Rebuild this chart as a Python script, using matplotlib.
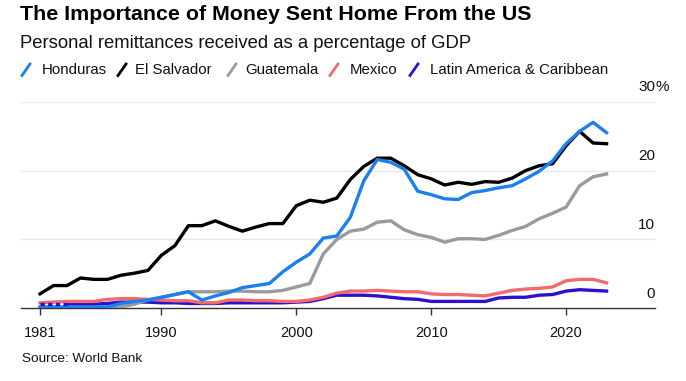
import matplotlib
matplotlib.use("Agg")
import matplotlib.pyplot as plt
from matplotlib.lines import Line2D
import matplotlib.transforms as mtransforms

plt.rcParams['font.family'] = ['Liberation Sans', 'DejaVu Sans']

years = list(range(1981, 2024))

honduras = [0.2, 0.2, 0.2, 0.2, 0.2, 0.2, 0.7, 1.0, 1.2, 1.6,
            2.0, 2.4, 1.2, 1.8, 2.3, 3.0, 3.3, 3.6, 5.3, 6.7,
            7.9, 10.2, 10.5, 13.2, 18.5, 21.6, 21.2, 20.2, 17.0, 16.5,
            15.9, 15.8, 16.8, 17.1, 17.5, 17.8, 18.8, 19.9, 21.4, 23.9,
            25.7, 27.0, 25.5]
el_salvador = [2.1, 3.3, 3.3, 4.4, 4.2, 4.2, 4.8, 5.1, 5.5, 7.7,
               9.1, 12.0, 12.0, 12.7, 11.9, 11.2, 11.8, 12.3, 12.3, 14.9,
               15.7, 15.4, 16.0, 18.7, 20.6, 21.8, 21.8, 20.7, 19.4, 18.8,
               17.9, 18.3, 18.0, 18.4, 18.3, 18.9, 20.0, 20.7, 21.0, 23.6,
               25.7, 24.0, 23.9]
guatemala = [0.1, 0.1, 0.1, 0.1, 0.1, 0.1, 0.2, 0.6, 1.2, 1.6,
             2.0, 2.4, 2.4, 2.4, 2.5, 2.5, 2.4, 2.4, 2.6, 3.1,
             3.6, 7.9, 10.0, 11.2, 11.5, 12.5, 12.7, 11.4, 10.7, 10.3,
             9.6, 10.1, 10.1, 10.0, 10.6, 11.3, 11.9, 13.0, 13.8, 14.7,
             17.8, 19.1, 19.5]
mexico = [0.8, 0.9, 1.0, 1.0, 1.0, 1.3, 1.4, 1.4, 1.3, 1.2,
          1.1, 1.1, 0.8, 0.8, 1.2, 1.2, 1.1, 1.1, 1.0, 1.0,
          1.2, 1.6, 2.2, 2.5, 2.5, 2.6, 2.5, 2.4, 2.4, 2.1,
          2.0, 2.0, 1.9, 1.8, 2.2, 2.6, 2.8, 2.9, 3.1, 4.0,
          4.2, 4.2, 3.7]
latam = [0.6, 0.6, 0.6, 0.6, 0.6, 0.7, 0.9, 0.9, 0.9, 0.8,
         0.8, 0.7, 0.7, 0.7, 0.8, 0.8, 0.8, 0.8, 0.8, 0.9,
         1.0, 1.4, 1.9, 1.9, 1.9, 1.8, 1.6, 1.4, 1.3, 1.0,
         1.0, 1.0, 1.0, 1.0, 1.5, 1.6, 1.6, 1.9, 2.0, 2.5,
         2.7, 2.6, 2.5]

series_names = ["Honduras", "El Salvador", "Guatemala", "Mexico", "Latin America & Caribbean"]
colors = ["#1a7ff0", "#000000", "#9a9a9a", "#f26b6b", "#2b10cc"]
xtick_years = [1981, 1990, 2000, 2010, 2020]
ytick_vals = [0, 10, 20, 30]
ytick_labels = ["0", "10", "20", "30"]

W, H = 686, 381
fig = plt.figure(figsize=(W / 100, H / 100), dpi=100)

def fx(x):
    return x / W

def fy(y):
    return 1 - y / H

ax_left, ax_right, ax_top, ax_bottom = 21, 655, 101.7, 308.3
ax = fig.add_axes([fx(ax_left), fy(ax_bottom), (ax_right - ax_left) / W, (ax_bottom - ax_top) / H])
ax.set_xlim(1979.59, 2026.59)
ax.set_ylim(0, 30)

for v in ytick_vals[1:]:
    ax.axhline(v, color="#e8e8e8", lw=1.0, zorder=0)

lw = 2.4
data = [honduras, el_salvador, guatemala, mexico, latam]
order = [4, 3, 2, 1, 0]
for i in order:
    vals = data[i]
    if i == 4:
        ax.plot(years[:3], vals[:3], color=colors[i], lw=lw, linestyle=(0, (1.3, 1.0)),
                dash_capstyle='butt', zorder=20)
        ax.plot(years[2:], vals[2:], color=colors[i], lw=lw, zorder=3 + (5 - i))
    else:
        ax.plot(years, vals, color=colors[i], lw=lw, zorder=3 + (5 - i))

for s in ["top", "right", "left"]:
    ax.spines[s].set_visible(False)
ax.spines["bottom"].set_color("#333333")
ax.spines["bottom"].set_linewidth(1.0)
ax.set_xticks(xtick_years)
ax.set_xticklabels([str(y) for y in xtick_years], fontsize=10.5, color="#111111")
ax.tick_params(axis="x", direction="out", length=5, width=1, color="#333333", pad=8)
ax.set_yticks([])

# right side y labels above gridlines
trans = mtransforms.offset_copy(ax.get_yaxis_transform(), fig=fig, x=0, y=14.5, units="dots")
for v, lab in zip(ytick_vals, ytick_labels):
    ax.text(1.0, v, lab, transform=trans, ha="right", va="center", fontsize=11, color="#111111", clip_on=False)
ax.text(1.0, 30, "%", transform=trans, ha="left", va="center", fontsize=11, color="#111111", clip_on=False)

# titles
fig.text(fx(20), fy(15), "The Importance of Money Sent Home From the US", fontsize=15.4,
         fontweight="bold", ha="left", va="center", color="#000000")
fig.text(fx(20), fy(44), "Personal remittances received as a percentage of GDP", fontsize=13.3,
         ha="left", va="center", color="#111111")

# legend
leg_marker_x = [22, 118, 228, 330, 410]
leg_text_x = [42, 135, 245, 350, 430]
for i in range(5):
    x0 = leg_marker_x[i]
    fig.add_artist(Line2D([fx(x0), fx(x0 + 8)], [fy(75.5), fy(64)], color=colors[i], lw=2.0,
                          transform=fig.transFigure))
    fig.text(fx(leg_text_x[i]), fy(70), series_names[i], fontsize=10.8, ha="left", va="center",
             color="#111111")

fig.text(fx(22), fy(359), "Source: World Bank", fontsize=9.7, ha="left", va="center", color="#111111")

fig.savefig("out.png", dpi=100)
